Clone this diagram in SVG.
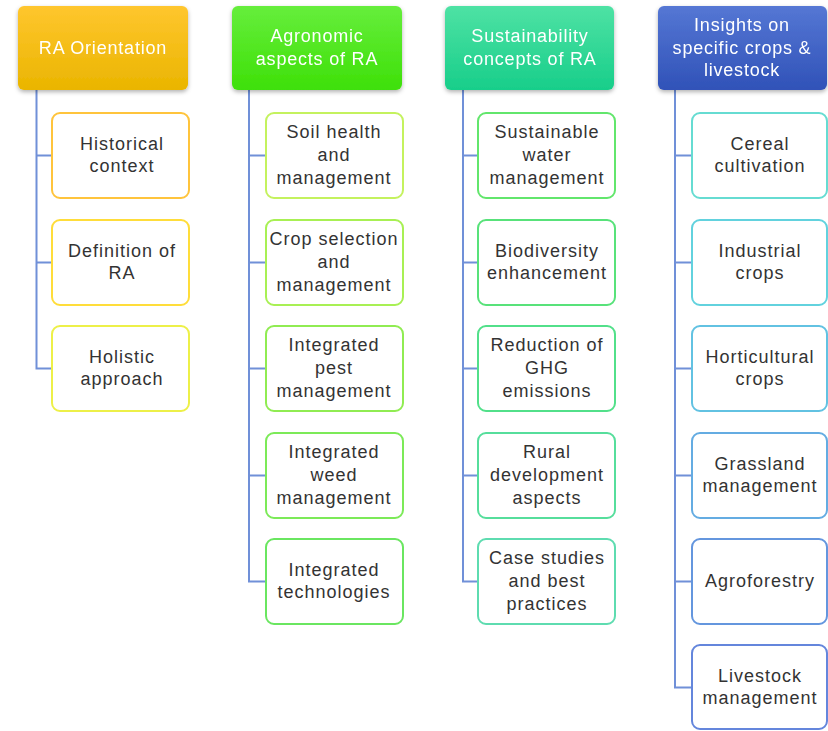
<svg xmlns="http://www.w3.org/2000/svg" width="828" height="731" viewBox="0 0 828 731">
<defs>
<linearGradient id="gO" x1="0" y1="0" x2="0" y2="1"><stop offset="0" stop-color="#FFC62E"/><stop offset="1" stop-color="#EAB500"/></linearGradient>
<linearGradient id="gG" x1="0" y1="0" x2="0" y2="1"><stop offset="0" stop-color="#66EE3C"/><stop offset="1" stop-color="#3EE008"/></linearGradient>
<linearGradient id="gT" x1="0" y1="0" x2="0" y2="1"><stop offset="0" stop-color="#4EE2A4"/><stop offset="1" stop-color="#18CE8A"/></linearGradient>
<linearGradient id="gB" x1="0" y1="0" x2="0" y2="1"><stop offset="0" stop-color="#5577D4"/><stop offset="1" stop-color="#3052B8"/></linearGradient>
<filter id="sh" x="-10%" y="-10%" width="120%" height="130%"><feDropShadow dx="0" dy="2" stdDeviation="2" flood-color="#000" flood-opacity="0.3"/></filter>
</defs>
<style>
.hd{filter:url(#sh)}
.hd text{fill:#fff;font-family:"Liberation Sans",Arial,sans-serif;font-size:18px;letter-spacing:0.8px;text-anchor:middle}
.ch rect{fill:#fff;stroke-width:2}
.ch text{fill:#333;font-family:"Liberation Sans",Arial,sans-serif;font-size:18px;letter-spacing:1px;text-anchor:middle}
#connectors path{fill:none;stroke:#7090D8;stroke-width:2}
</style>
<rect width="828" height="731" fill="#fff"/>
<g id="connectors">
<path d="M36.5 90V368.5H52M36.5 155.5H52M36.5 262.5H52"/>
<path d="M249 90V581.5H266M249 155.5H266M249 262.5H266M249 368.5H266M249 475.5H266"/>
<path d="M463 90V581.5H478M463 155.5H478M463 262.5H478M463 368.5H478M463 475.5H478"/>
<path d="M675 90V687.5H692M675 155.5H692M675 262.5H692M675 368.5H692M675 475.5H692M675 581.5H692"/>
</g>
<g id="h1" class="hd"><rect x="18" y="6" width="170" height="84" rx="6" fill="url(#gO)"/><text x="103" y="54">RA Orientation</text></g>
<g id="h2" class="hd"><rect x="232" y="6" width="170" height="84" rx="6" fill="url(#gG)"/><text x="317" y="42">Agronomic</text><text x="317" y="65">aspects of RA</text></g>
<g id="h3" class="hd"><rect x="445" y="6" width="169" height="84" rx="6" fill="url(#gT)"/><text x="530" y="42">Sustainability</text><text x="530" y="65">concepts of RA</text></g>
<g id="h4" class="hd"><rect x="658" y="6" width="169" height="84" rx="6" fill="url(#gB)"/><text x="742" y="31">Insights on</text><text x="742" y="54">specific crops &amp;</text><text x="742" y="76">livestock</text></g>

<g id="c1a" class="ch"><rect x="52" y="113" width="137" height="85" rx="8" stroke="#FFC43C"/><text x="122" y="150">Historical</text><text x="122" y="172">context</text></g>
<g id="c1b" class="ch"><rect x="52" y="220" width="137" height="85" rx="8" stroke="#FFDD3A"/><text x="122" y="257">Definition of</text><text x="122" y="279">RA</text></g>
<g id="c1c" class="ch"><rect x="52" y="326" width="137" height="85" rx="8" stroke="#EDF048"/><text x="122" y="363">Holistic</text><text x="122" y="385">approach</text></g>

<g id="c2a" class="ch"><rect x="266" y="113" width="137" height="85" rx="8" stroke="#C4F25E"/><text x="334" y="138">Soil health</text><text x="334" y="161">and</text><text x="334" y="184">management</text></g>
<g id="c2b" class="ch"><rect x="266" y="220" width="137" height="85" rx="8" stroke="#A8F054"/><text x="334" y="245">Crop selection</text><text x="334" y="268">and</text><text x="334" y="291">management</text></g>
<g id="c2c" class="ch"><rect x="266" y="326" width="137" height="85" rx="8" stroke="#90EC52"/><text x="334" y="351">Integrated</text><text x="334" y="374">pest</text><text x="334" y="397">management</text></g>
<g id="c2d" class="ch"><rect x="266" y="433" width="137" height="85" rx="8" stroke="#7CEA58"/><text x="334" y="458">Integrated</text><text x="334" y="481">weed</text><text x="334" y="504">management</text></g>
<g id="c2e" class="ch"><rect x="266" y="539" width="137" height="85" rx="8" stroke="#6AE660"/><text x="334" y="576">Integrated</text><text x="334" y="598">technologies</text></g>

<g id="c3a" class="ch"><rect x="478" y="113" width="137" height="85" rx="8" stroke="#62E66C"/><text x="547" y="138">Sustainable</text><text x="547" y="161">water</text><text x="547" y="184">management</text></g>
<g id="c3b" class="ch"><rect x="478" y="220" width="137" height="85" rx="8" stroke="#58E27A"/><text x="547" y="257">Biodiversity</text><text x="547" y="279">enhancement</text></g>
<g id="c3c" class="ch"><rect x="478" y="326" width="137" height="85" rx="8" stroke="#52E08A"/><text x="547" y="351">Reduction of</text><text x="547" y="374">GHG</text><text x="547" y="397">emissions</text></g>
<g id="c3d" class="ch"><rect x="478" y="433" width="137" height="85" rx="8" stroke="#56DE9C"/><text x="547" y="458">Rural</text><text x="547" y="481">development</text><text x="547" y="504">aspects</text></g>
<g id="c3e" class="ch"><rect x="478" y="539" width="137" height="85" rx="8" stroke="#5EDCB0"/><text x="547" y="564">Case studies</text><text x="547" y="587">and best</text><text x="547" y="610">practices</text></g>

<g id="c4a" class="ch"><rect x="692" y="113" width="135" height="85" rx="8" stroke="#66DCD2"/><text x="760" y="150">Cereal</text><text x="760" y="172">cultivation</text></g>
<g id="c4b" class="ch"><rect x="692" y="220" width="135" height="85" rx="8" stroke="#62D2DE"/><text x="760" y="257">Industrial</text><text x="760" y="279">crops</text></g>
<g id="c4c" class="ch"><rect x="692" y="326" width="135" height="85" rx="8" stroke="#62C2E2"/><text x="760" y="363">Horticultural</text><text x="760" y="385">crops</text></g>
<g id="c4d" class="ch"><rect x="692" y="433" width="135" height="85" rx="8" stroke="#64ACE2"/><text x="760" y="470">Grassland</text><text x="760" y="492">management</text></g>
<g id="c4e" class="ch"><rect x="692" y="539" width="135" height="85" rx="8" stroke="#6496DE"/><text x="760" y="587">Agroforestry</text></g>
<g id="c4f" class="ch"><rect x="692" y="645" width="135" height="84" rx="8" stroke="#6486DC"/><text x="760" y="682">Livestock</text><text x="760" y="704">management</text></g>
</svg>
